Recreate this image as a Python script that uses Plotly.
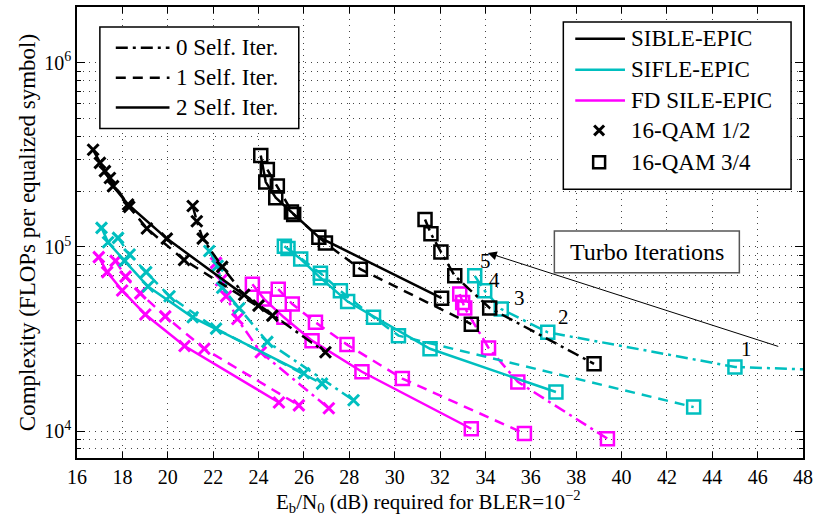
import math
import plotly.graph_objects as go

# ---------------- data ----------------
x_ticks = list(range(16, 49, 2))
y_ticks = [1e4, 1e5, 1e6]
y_tick_text = ["10<sup>4</sup>", "10<sup>5</sup>", "10<sup>6</sup>"]
turbo_labels = ["5", "4", "3", "2", "1"]

# SIBLE-EPIC, 16-QAM 1/2 (x markers)
sible_12_s2_x = [16.71, 17.23, 17.59, 18.25, 19.96, 24.0]
sible_12_s2_y = [3.37e5, 2.58e5, 2.14e5, 1.70e5, 1.11e5, 4.8e4]
sible_12_s1_x = [17.01, 17.45, 18.3, 19.08, 20.72, 24.61]
sible_12_s1_y = [2.86e5, 2.37e5, 1.65e5, 1.26e5, 8.5e4, 4.24e4]
sible_12_s0_x = [21.1, 21.28, 21.54, 22.4, 23.37, 26.95]
sible_12_s0_y = [1.67e5, 1.38e5, 1.11e5, 7.8e4, 5.5e4, 2.68e4]
# SIBLE-EPIC, 16-QAM 3/4 (squares)
sible_34_s2_x = [24.10, 24.32, 24.76, 25.45, 26.66, 32.07]
sible_34_s2_y = [3.14e5, 2.25e5, 1.85e5, 1.55e5, 1.13e5, 5.27e4]
sible_34_s1_x = [24.39, 24.83, 25.55, 26.95, 28.49, 33.38]
sible_34_s1_y = [2.63e5, 2.14e5, 1.50e5, 1.05e5, 7.57e4, 3.81e4]
sible_34_s0_x = [31.34, 31.6, 32.04, 32.65, 34.19, 38.79]
sible_34_s0_y = [1.41e5, 1.18e5, 9.4e4, 6.97e4, 4.66e4, 2.32e4]

# SIFLE-EPIC, 16-QAM 1/2
sifle_12_s2_x = [17.08, 17.37, 18.1, 19.13, 21.1, 26.0]
sifle_12_s2_y = [1.27e5, 1.06e5, 8.4e4, 6.1e4, 4.15e4, 2.06e4]
sifle_12_s1_x = [17.81, 18.32, 19.05, 20.08, 22.13, 26.8]
sifle_12_s1_y = [1.12e5, 9.1e4, 7.3e4, 5.4e4, 3.6e4, 1.81e4]
sifle_12_s0_x = [21.83, 22.2, 22.4, 23.15, 24.39, 28.19]
sifle_12_s0_y = [9.5e4, 7.9e4, 6.0e4, 4.65e4, 3.05e4, 1.47e4]
# SIFLE-EPIC, 16-QAM 3/4
sifle_34_s2_x = [25.14, 25.86, 26.73, 27.93, 31.56, 37.11]
sifle_34_s2_y = [1.01e5, 8.6e4, 6.8e4, 5.05e4, 2.8e4, 1.63e4]
sifle_34_s1_x = [25.3, 26.73, 27.61, 29.07, 30.17, 43.18]
sifle_34_s1_y = [9.8e4, 7.2e4, 5.78e4, 4.15e4, 3.3e4, 1.35e4]
sifle_34_s0_x = [33.53, 33.97, 34.7, 36.75, 45.0, 56.0]
sifle_34_s0_y = [6.97e4, 5.78e4, 4.6e4, 3.44e4, 2.23e4, 2.0e4]

# FD SILE-EPIC, 16-QAM 1/2
fdsile_12_s2_x = [16.96, 17.33, 17.99, 19.01, 20.74, 24.9]
fdsile_12_s2_y = [8.8e4, 7.3e4, 5.8e4, 4.3e4, 2.9e4, 1.43e4]
fdsile_12_s1_x = [17.7, 18.14, 18.79, 19.89, 21.61, 25.78]
fdsile_12_s1_y = [8.4e4, 6.9e4, 5.6e4, 4.2e4, 2.8e4, 1.38e4]
fdsile_12_s0_x = [22.13, 22.35, 22.57, 23.07, 24.1, 27.1]
fdsile_12_s0_y = [8.2e4, 6.6e4, 5.4e4, 4.06e4, 2.68e4, 1.33e4]
# FD SILE-EPIC, 16-QAM 3/4
fdsile_34_s2_x = [23.73, 24.25, 25.12, 26.36, 28.56, 33.38]
fdsile_34_s2_y = [6.28e4, 5.21e4, 4.15e4, 3.1e4, 2.1e4, 1.03e4]
fdsile_34_s1_x = [24.87, 25.49, 26.51, 27.9, 30.34, 35.72]
fdsile_34_s1_y = [5.9e4, 4.9e4, 3.9e4, 2.95e4, 1.93e4, 9.7e3]
fdsile_34_s0_x = [32.87, 33.0, 33.09, 34.14, 35.43, 39.38]
fdsile_34_s0_y = [5.55e4, 5.0e4, 4.66e4, 2.83e4, 1.85e4, 9.1e3]

algo_names = ["SIBLE-EPIC", "SIFLE-EPIC", "FD SILE-EPIC"]
mod_names = ["16-QAM 1/2", "16-QAM 3/4"]
self_iter_names = ["0 Self. Iter.", "1 Self. Iter.", "2 Self. Iter."]
x_title = "E<sub>b</sub>/N<sub>0</sub> (dB) required for BLER=10<sup>−2</sup>"
y_title = "Complexity (FLOPs per equalized symbol)"

# ---------------- styling ----------------
FONT = "Liberation Serif"
W, H = 818, 518
ML, MR, MT, MB = 77, 11, 5, 60
PW, PH = W - ML - MR, H - MT - MB

colors = {"SIBLE-EPIC": "#000000", "SIFLE-EPIC": "#00BFBF", "FD SILE-EPIC": "#FF00FF"}
dashes = {0: "12px,5px,3px,5px", 1: "10px,7px", 2: "solid"}

curves = [
    ("FD SILE-EPIC", 1, 0, fdsile_34_s0_x, fdsile_34_s0_y),
    ("FD SILE-EPIC", 1, 1, fdsile_34_s1_x, fdsile_34_s1_y),
    ("FD SILE-EPIC", 1, 2, fdsile_34_s2_x, fdsile_34_s2_y),
    ("FD SILE-EPIC", 0, 0, fdsile_12_s0_x, fdsile_12_s0_y),
    ("FD SILE-EPIC", 0, 1, fdsile_12_s1_x, fdsile_12_s1_y),
    ("FD SILE-EPIC", 0, 2, fdsile_12_s2_x, fdsile_12_s2_y),
    ("SIFLE-EPIC", 1, 0, sifle_34_s0_x, sifle_34_s0_y),
    ("SIFLE-EPIC", 1, 1, sifle_34_s1_x, sifle_34_s1_y),
    ("SIFLE-EPIC", 1, 2, sifle_34_s2_x, sifle_34_s2_y),
    ("SIFLE-EPIC", 0, 0, sifle_12_s0_x, sifle_12_s0_y),
    ("SIFLE-EPIC", 0, 1, sifle_12_s1_x, sifle_12_s1_y),
    ("SIFLE-EPIC", 0, 2, sifle_12_s2_x, sifle_12_s2_y),
    ("SIBLE-EPIC", 1, 0, sible_34_s0_x, sible_34_s0_y),
    ("SIBLE-EPIC", 1, 1, sible_34_s1_x, sible_34_s1_y),
    ("SIBLE-EPIC", 1, 2, sible_34_s2_x, sible_34_s2_y),
    ("SIBLE-EPIC", 0, 0, sible_12_s0_x, sible_12_s0_y),
    ("SIBLE-EPIC", 0, 1, sible_12_s1_x, sible_12_s1_y),
    ("SIBLE-EPIC", 0, 2, sible_12_s2_x, sible_12_s2_y),
]

fig = go.Figure()
for algo, mod, s, xs, ys in curves:
    c = colors[algo]
    if mod == 0:
        mk = dict(symbol="x-thin", size=11, color=c, line=dict(color=c, width=3))
    else:
        mk = dict(symbol="square-open", size=13, color=c, line=dict(color=c, width=2.5))
    fig.add_trace(go.Scatter(
        x=xs, y=ys, mode="lines+markers",
        name=f"{algo} {mod_names[mod]} {self_iter_names[s]}",
        line=dict(color=c, width=2.5, dash=dashes[s]),
        marker=mk, showlegend=False))


def px(xp):
    return (xp - ML) / PW


def py(yp):
    return (H - MB - yp) / PH


TXT = 23
shapes = []
annotations = []

# left legend (self iterations)
shapes.append(dict(type="rect", xref="paper", yref="paper", x0=px(100), x1=px(300),
                   y0=py(127), y1=py(25), line=dict(color="black", width=1.5),
                   fillcolor="white", layer="above"))
for i, (lbl, yy) in enumerate(zip(self_iter_names, [46, 76, 106])):
    shapes.append(dict(type="line", xref="paper", yref="paper", x0=px(116), x1=px(170),
                       y0=py(yy), y1=py(yy), layer="above",
                       line=dict(color="black", width=2.5, dash=dashes[i])))
    annotations.append(dict(xref="paper", yref="paper", x=px(175), y=py(yy), text=lbl,
                            showarrow=False, xanchor="left", yanchor="middle",
                            font=dict(family=FONT, size=TXT, color="black")))

# right legend (algorithms + modulations)
shapes.append(dict(type="rect", xref="paper", yref="paper", x0=px(566), x1=px(795),
                   y0=py(188), y1=py(20), line=dict(color="black", width=1.5),
                   fillcolor="white", layer="above"))
for lbl, yy in zip(algo_names, [37, 68, 99]):
    shapes.append(dict(type="line", xref="paper", yref="paper", x0=px(578), x1=px(628),
                       y0=py(yy), y1=py(yy), layer="above",
                       line=dict(color=colors[lbl], width=2.5)))
    annotations.append(dict(xref="paper", yref="paper", x=px(632), y=py(yy), text=lbl,
                            showarrow=False, xanchor="left", yanchor="middle",
                            font=dict(family=FONT, size=TXT, color="black")))
# x marker entry
yy = 129
for d in (-1, 1):
    shapes.append(dict(type="line", xref="paper", yref="paper", x0=px(597), x1=px(607),
                       y0=py(yy - 5 * d), y1=py(yy + 5 * d), layer="above",
                       line=dict(color="black", width=3)))
annotations.append(dict(xref="paper", yref="paper", x=px(632), y=py(yy), text=mod_names[0],
                        showarrow=False, xanchor="left", yanchor="middle",
                        font=dict(family=FONT, size=TXT, color="black")))
# square marker entry
yy = 161
shapes.append(dict(type="rect", xref="paper", yref="paper", x0=px(596), x1=px(608),
                   y0=py(yy + 6), y1=py(yy - 6), layer="above",
                   line=dict(color="black", width=2.5)))
annotations.append(dict(xref="paper", yref="paper", x=px(632), y=py(yy), text=mod_names[1],
                        showarrow=False, xanchor="left", yanchor="middle",
                        font=dict(family=FONT, size=TXT, color="black")))

# Turbo iterations box
shapes.append(dict(type="rect", xref="paper", yref="paper", x0=px(557), x1=px(743),
                   y0=py(272), y1=py(230), line=dict(color="#555555", width=1.5),
                   fillcolor="white", layer="above"))
annotations.append(dict(xref="paper", yref="paper", x=px(650), y=py(251),
                        xanchor="center", yanchor="middle",
                        text="Turbo Iterations", showarrow=False,
                        font=dict(family=FONT, size=24, color="black")))
# arrow
annotations.append(dict(xref="paper", yref="paper", x=px(490), y=py(252), text="",
                        showarrow=True, ax=292, ay=94, arrowhead=2, arrowsize=1.8,
                        arrowwidth=1, arrowcolor="black", standoff=0))
# turbo iteration labels next to the SIFLE 0-self-iteration 3/4 points
shifts = [(11, 15), (10, 11), (18, 11), (16, 15), (12, 18)]
for lbl, xv, yv, (dx, dy) in zip(turbo_labels, sifle_34_s0_x, sifle_34_s0_y, shifts):
    annotations.append(dict(x=xv, y=math.log10(yv), xref="x", yref="y", text=lbl,
                            showarrow=False, xshift=dx, yshift=dy,
                            xanchor="center", yanchor="middle",
                            font=dict(family=FONT, size=21, color="black")))

# x-axis title (placed as in the reference)
annotations.append(dict(xref="paper", yref="paper", x=px(430), y=py(502),
                        xanchor="center", yanchor="middle", text=x_title,
                        showarrow=False, font=dict(family=FONT, size=21, color="black")))

minor_vals = [m * 10 ** k for k in (3, 4, 5, 6) for m in range(2, 10)]

grid_dash = "1px,5px"
fig.update_layout(
    width=W, height=H,
    margin=dict(l=ML, r=MR, t=MT, b=MB),
    paper_bgcolor="white", plot_bgcolor="white",
    font=dict(family=FONT, size=20, color="black"),
    shapes=shapes, annotations=annotations,
    xaxis=dict(range=[16, 48], tickvals=x_ticks, ticks="inside", ticklen=6,
               tickwidth=1, tickcolor="black", mirror="ticks", showline=True,
               linecolor="black", linewidth=1.5, showgrid=True, gridcolor="#444444",
               griddash=grid_dash, gridwidth=1, zeroline=False,
               tickfont=dict(family=FONT, size=20)),
    yaxis=dict(type="log", range=[3.854, 6.303], tickmode="array", tickvals=y_ticks,
               ticktext=y_tick_text, ticks="inside", ticklen=8, tickwidth=1,
               tickcolor="black", mirror="ticks", showline=True, linecolor="black",
               linewidth=1.5, showgrid=True, gridcolor="#444444", griddash=grid_dash,
               gridwidth=1, zeroline=False, tickfont=dict(family=FONT, size=20),
               minor=dict(tickmode="array", tickvals=minor_vals, ticks="inside",
                          ticklen=4, tickcolor="black", showgrid=True,
                          gridcolor="#444444", griddash=grid_dash, gridwidth=1),
               title=dict(text=y_title, font=dict(family=FONT, size=23), standoff=2)),
)

fig.write_html("out.html", config={"displayModeBar": False},
               post_script="document.body.style.margin='0';document.body.style.padding='0';")
